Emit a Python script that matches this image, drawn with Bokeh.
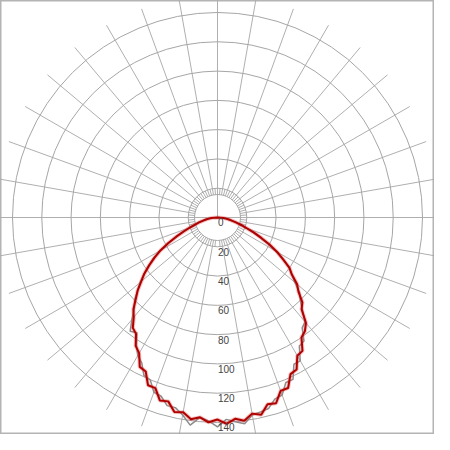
import numpy as np
from bokeh.plotting import figure
from bokeh.models import Range1d, ColumnDataSource
from bokeh.core.properties import value
from bokeh.embed import file_html
from bokeh.resources import INLINE

# ---- data ----
angles = [-90, -87.5, -85, -82.5, -80, -77.5, -75, -72.5, -70, -67.5, -65, -62.5,
          -60, -57.5, -55, -52.5, -50, -47.5, -45, -42.5, -40, -37.5, -35, -32.5,
          -30, -27.5, -25, -22.5, -20, -17.5, -15, -12.5, -10, -7.5, -5, -2.5,
          0, 2.5, 5, 7.5, 10, 12.5, 15, 17.5, 20, 22.5, 25, 27.5,
          30, 32.5, 35, 37.5, 40, 42.5, 45, 47.5, 50, 52.5, 55, 57.5,
          60, 62.5, 65, 67.5, 70, 72.5, 75, 77.5, 80, 82.5, 85, 87.5, 90]

red_values = [0, 2, 4, 6, 8, 10, 13, 16, 20, 25, 31, 38,
              45, 51, 57, 63, 68, 74, 79, 85, 89, 95, 97, 104,
              107, 115, 116, 124, 124, 131, 130, 136, 135, 139, 137, 140,
              138, 141, 138, 140, 136, 138, 132, 133, 126, 126, 118, 117,
              109, 108, 100, 98, 94, 85, 82, 75, 71, 64, 60, 53,
              47, 40, 33, 27, 21, 17, 13, 10, 8, 6, 4, 2, 0]

gray_values = [0, 2, 4, 6, 8, 11, 14, 17, 21, 26, 32, 38,
               45, 52, 57, 63, 69, 74, 80, 84, 91, 98, 96, 103,
               109, 112, 119, 120, 127, 128, 133, 133, 137, 143, 137, 139,
               143, 138, 140, 142, 137, 136, 135, 130, 129, 122, 122, 113,
               113, 104, 103, 95, 93, 86, 80, 76, 69, 64, 60, 53,
               46, 39, 32, 26, 21, 16, 13, 10, 7, 5, 3, 2, 0]

ring_values = [20, 40, 60, 80, 100, 120, 140]
ring_labels = ["0", "20", "40", "60", "80", "100", "120", "140"]
label_values = [0, 20, 40, 60, 80, 100, 120, 140]

# ---- geometry helpers ----
PX_PER_UNIT = 205.0 / 140.0
W = 434
H = (W / 2) / PX_PER_UNIT
inner_r = 23.0 / PX_PER_UNIT
outer_r = 222.0 / PX_PER_UNIT

p = figure(width=W, height=W, output_backend="svg", toolbar_location=None,
           x_range=Range1d(-H, H), y_range=Range1d(-H, H), min_border=0)
p.xaxis.visible = False
p.yaxis.visible = False
p.xgrid.visible = False
p.ygrid.visible = False
p.outline_line_color = "#b4b4b4"
p.outline_line_width = 2
p.background_fill_color = "white"
p.border_fill_color = "white"

grid_col = "#a6a6a6"

# rings
p.circle(x=[0] * (len(ring_values) + 1), y=[0] * (len(ring_values) + 1),
         radius=[inner_r] + ring_values, fill_color=None,
         line_color=grid_col, line_width=1)

# radial lines every 10 degrees (angle from nadir), except nadir itself
xs, ys = [], []
for a in range(10, 360, 10):
    phi = np.deg2rad(a)
    r0 = 0.0 if a in (90, 180, 270) else inner_r
    xs.append([r0 * np.sin(phi), outer_r * np.sin(phi)])
    ys.append([-r0 * np.cos(phi), -outer_r * np.cos(phi)])
# short 5-degree lines in the inner band
for a in range(5, 360, 10):
    phi = np.deg2rad(a)
    xs.append([inner_r * np.sin(phi), 20 * np.sin(phi)])
    ys.append([-inner_r * np.cos(phi), -20 * np.cos(phi)])
p.multi_line(xs=xs, ys=ys, line_color=grid_col, line_width=1, line_alpha=0.9)

# curves
def to_xy(vals):
    th = np.deg2rad(np.array(angles))
    v = np.array(vals, dtype=float)
    return v * np.sin(th), -v * np.cos(th)

gx, gy = to_xy(gray_values)
rx, ry = to_xy(red_values)
p.line(gx, gy, line_color="#8c8c8c", line_width=1.5)
p.line(rx, ry, line_color="#e05050", line_width=4, line_alpha=0.35)
p.line(rx, ry, line_color="#b00000", line_width=2)

# labels
src = ColumnDataSource(dict(x=[0.3] * len(label_values),
                            y=[-(v + 0.6) for v in label_values],
                            t=ring_labels))
p.text(x="x", y="y", text="t", source=src, text_align="left",
       text_baseline="top", text_font=value("Liberation Sans"),
       text_font_size="10px", text_color="#444444")

open("out.html", "w").write(file_html(p, INLINE))
